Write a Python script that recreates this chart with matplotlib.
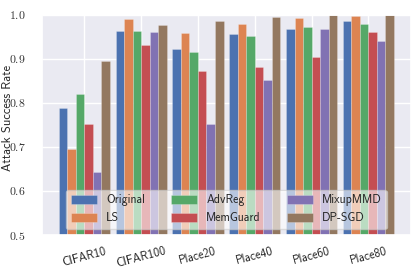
import numpy as np
import matplotlib
matplotlib.use("Agg")
import matplotlib.pyplot as plt
import seaborn as sns
from matplotlib.ticker import FuncFormatter

categories = ["CIFAR10", "CIFAR100", "Place20", "Place40", "Place60", "Place80"]
methods = ["Original", "LS", "AdvReg", "MemGuard", "MixupMMD", "DP-SGD"]
original = [0.788, 0.964, 0.923, 0.957, 0.968, 0.985]
ls = [0.695, 0.991, 0.958, 0.979, 0.992, 0.997]
advreg = [0.820, 0.962, 0.916, 0.951, 0.971, 0.979]
memguard = [0.752, 0.932, 0.872, 0.881, 0.905, 0.961]
mixupmmd = [0.644, 0.960, 0.752, 0.851, 0.968, 0.941]
dpsgd = [0.896, 0.977, 0.986, 0.994, 1.0, 1.0]
series = [original, ls, advreg, memguard, mixupmmd, dpsgd]
y_ticks = [0.5, 0.6, 0.7, 0.8, 0.9, 1.0]

sns.set_theme(style="darkgrid")
plt.rcParams["mathtext.fontset"] = "cm"
plt.rcParams["font.family"] = ["cmss10", "DejaVu Sans"]
plt.rcParams["axes.unicode_minus"] = False
colors = sns.color_palette("deep")

fig = plt.figure(figsize=(4.15, 2.77), dpi=100)
ax = fig.add_axes([42/415, 1 - 235/277, (410.7 - 42)/415, (235 - 14.7)/277])

x = np.arange(len(categories))
w = 0.15
for i, (m, vals) in enumerate(zip(methods, series)):
    ax.bar(x + (i - 2.5) * w, vals, width=w, label=m, color=colors[i],
           edgecolor=(1, 1, 1, 0.25), linewidth=0.6)

ax.set_ylim(0.5, 1.0)
ax.set_yticks(y_ticks)
ax.yaxis.set_major_formatter(FuncFormatter(lambda v, p: r"$%.1f$" % v))
ax.set_xticks(x)
ax.set_xticklabels(categories, rotation=15, fontsize=8.5)
ax.tick_params(axis="y", labelsize=8.5, pad=6, labelcolor="#333333")
ax.tick_params(axis="x", pad=1.5)
ax.set_ylabel("Attack Success Rate", fontsize=9)
ax.yaxis.set_label_coords(-0.076, 0.53)
ax.legend(ncol=3, loc="lower center", fontsize=8.5, framealpha=0.6,
          facecolor="white", edgecolor="#cccccc", handleheight=0.75,
          handlelength=2.2, columnspacing=2.2)

fig.savefig("out.png", dpi=100)
